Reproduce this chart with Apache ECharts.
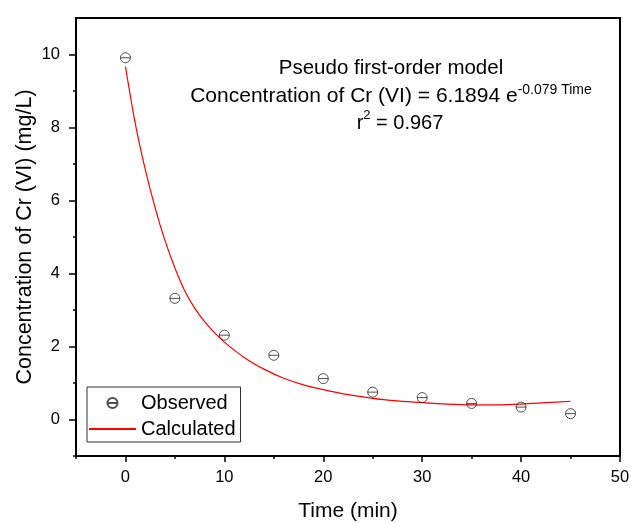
<!DOCTYPE html>
<html>
<head>
    <meta http-equiv="Content-Type" content="text/html; charset=utf-8" />
    <title>Pseudo first-order model</title>
    <script src="https://cdn.jsdelivr.net/npm/echarts@6/dist/echarts.min.js"></script>
</head>
<body style="margin:0;padding:0;background:#ffffff;">
    <div id="main" style="width:633px;height:523px;"></div>
    <script type="text/javascript">
        /*************************************************************
        * data
        *************************************************************/
        var timeMin = [0, 5, 10, 15, 20, 25, 30, 35, 40, 45];
        var observed = [9.91, 3.32, 2.31, 1.76, 1.12, 0.75, 0.60, 0.44, 0.34, 0.16];

        // red fitted curve
        var calcTime = [0, 1, 2, 3, 4, 5, 6, 7, 8, 9, 10, 12, 14, 16, 18, 20, 22.5, 25, 27.5, 30, 32.5, 35, 37.5, 40, 42.5, 45];
        var calcConc = [9.67, 8.10, 6.85, 5.80, 4.90, 4.15, 3.52, 3.05, 2.68, 2.38, 2.12, 1.70, 1.38, 1.13, 0.95, 0.82, 0.68, 0.58, 0.51, 0.46, 0.42, 0.40, 0.40, 0.42, 0.46, 0.50];

        var xMajorTicks = [0, 10, 20, 30, 40, 50];
        var xMinorTicks = [-5, 5, 15, 25, 35, 45];
        var yMajorTicks = [0, 2, 4, 6, 8, 10];
        var yMinorTicks = [-1, 1, 3, 5, 7, 9];

        var FONT = '"Liberation Sans", Arial, sans-serif';
        var circleLine = 'path://M10,5A5,5,0,1,1,0,5A5,5,0,1,1,10,5ZM0,5L10,5';

        var calcData = [];
        for (var i = 0; i < calcTime.length; i++) {
            calcData.push([calcTime[i], calcConc[i]]);
        }
        var obsData = [];
        for (var j = 0; j < timeMin.length; j++) {
            obsData.push([timeMin[j], observed[j]]);
        }

        var chart = echarts.init(document.getElementById('main'), null, { renderer: 'canvas' });

        var option = {
            animation: false,
            backgroundColor: '#ffffff',
            grid: {
                left: 76, right: 13, top: 18, bottom: 67,
                outerBoundsMode: 'none',
                containLabel: false,
                show: true,
                borderColor: '#000',
                borderWidth: 2
            },
            legend: {
                orient: 'vertical',
                left: 87,
                top: 387,
                padding: [6, 5, 3, 1],
                itemGap: 6,
                itemWidth: 47,
                itemHeight: 10,
                borderColor: '#333',
                borderWidth: 1,
                textStyle: { color: '#000', fontSize: 20, fontFamily: FONT },
                data: [
                    'Observed',
                    { name: 'Calculated', itemStyle: { opacity: 0 } }   // line only, no dot
                ]
            },
            xAxis: [
                {
                    type: 'value',
                    min: -5, max: 50,
                    position: 'bottom',
                    name: 'Time (min)',
                    nameLocation: 'middle',
                    nameGap: 45,
                    nameMoveOverlap: false,
                    nameTextStyle: { color: '#000', fontSize: 21, fontFamily: FONT },
                    axisLine: { onZero: false, lineStyle: { color: '#000', width: 2 } },
                    axisTick: { length: 6, customValues: xMajorTicks, lineStyle: { color: '#000', width: 1.5 } },
                    axisLabel: { customValues: xMajorTicks, margin: 13, color: '#000', fontSize: 16.5, fontFamily: FONT },
                    splitLine: { show: false }
                },
                {
                    // minor ticks only
                    type: 'value',
                    min: -5, max: 50,
                    position: 'bottom',
                    axisLine: { show: false, onZero: false },
                    axisTick: { length: 3, customValues: xMinorTicks, lineStyle: { color: '#000', width: 1.5 } },
                    axisLabel: { show: false },
                    splitLine: { show: false }
                }
            ],
            yAxis: [
                {
                    type: 'value',
                    min: -1, max: 11,
                    position: 'left',
                    name: 'Concentration of Cr (VI) (mg/L)',
                    nameLocation: 'middle',
                    nameGap: 40,
                    nameMoveOverlap: false,
                    nameTextStyle: { color: '#000', fontSize: 21.5, fontFamily: FONT },
                    axisLine: { onZero: false, lineStyle: { color: '#000', width: 2 } },
                    axisTick: { length: 7, customValues: yMajorTicks, lineStyle: { color: '#000', width: 1.5 } },
                    axisLabel: { customValues: yMajorTicks, margin: 16, color: '#000', fontSize: 16.5, fontFamily: FONT },
                    splitLine: { show: false }
                },
                {
                    type: 'value',
                    min: -1, max: 11,
                    position: 'left',
                    axisLine: { show: false, onZero: false },
                    axisTick: { length: 3, customValues: yMinorTicks, lineStyle: { color: '#000', width: 1.5 } },
                    axisLabel: { show: false },
                    splitLine: { show: false }
                }
            ],
            graphic: [
                {
                    type: 'text', x: 391, y: 68,
                    style: {
                        text: 'Pseudo first-order model',
                        font: '20.5px ' + FONT, fill: '#000',
                        align: 'center', verticalAlign: 'middle'
                    }
                },
                {
                    type: 'text', x: 391, y: 95,
                    style: {
                        text: '{m|Concentration of Cr (VI) = 6.1894 e}{s|-0.079 Time}',
                        fill: '#000',
                        align: 'center', verticalAlign: 'middle',
                        rich: {
                            m: { fontSize: 21, fontFamily: FONT, lineHeight: 24, verticalAlign: 'bottom' },
                            s: { fontSize: 14, fontFamily: FONT, lineHeight: 10, verticalAlign: 'top' }
                        }
                    }
                },
                {
                    type: 'text', x: 400, y: 121,
                    style: {
                        text: '{m|r}{s|2}{m| = 0.967}',
                        fill: '#000',
                        align: 'center', verticalAlign: 'middle',
                        rich: {
                            m: { fontSize: 20, fontFamily: FONT, lineHeight: 24, verticalAlign: 'bottom' },
                            s: { fontSize: 13, fontFamily: FONT, lineHeight: 9, verticalAlign: 'top' }
                        }
                    }
                }
            ],
            series: [
                {
                    name: 'Observed',
                    type: 'scatter',
                    symbol: circleLine,
                    symbolSize: 10,
                    itemStyle: { color: 'rgba(0,0,0,0)', borderColor: '#222', borderWidth: 1 },
                    data: obsData,
                    z: 3
                },
                {
                    name: 'Calculated',
                    type: 'line',
                    symbol: 'none',
                    smooth: 0.3,
                    lineStyle: { color: '#ff0000', width: 1.2 },
                    itemStyle: { color: '#ff0000' },
                    data: calcData,
                    z: 2
                }
            ]
        };

        chart.setOption(option);
    </script>
</body>
</html>
